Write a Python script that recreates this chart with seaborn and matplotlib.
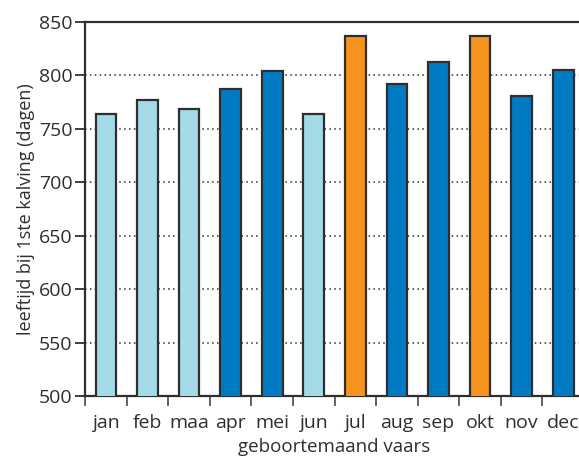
import numpy as np
import pandas as pd
import matplotlib
matplotlib.use("Agg")
import matplotlib.pyplot as plt
import seaborn as sns

# data
maanden = ["jan", "feb", "maa", "apr", "mei", "jun", "jul", "aug", "sep", "okt", "nov", "dec"]
leeftijd = [764, 777, 769, 787, 804, 764, 837, 792, 813, 837, 781, 805]
groep = ["licht", "licht", "licht", "blauw", "blauw", "licht",
         "oranje", "blauw", "blauw", "oranje", "blauw", "blauw"]
yticks = [500, 550, 600, 650, 700, 750, 800, 850]

kleuren = {"licht": "#a3dae5", "blauw": "#007bc3", "oranje": "#f5931f"}
ink = "#2e2e2e"

df = pd.DataFrame({"maand": maanden, "leeftijd": leeftijd, "groep": groep})

sns.set_theme(style="ticks")
plt.rcParams["font.family"] = ["Open Sans", "DejaVu Sans"]

fig = plt.figure(figsize=(5.79, 4.59), dpi=100)
ax = fig.add_axes([0.147, 0.137, 1.0087 - 0.147, 0.952 - 0.137])

sns.barplot(data=df, x="maand", y="leeftijd", hue="groep", palette=kleuren,
            saturation=1, dodge=False, width=0.5, legend=False,
            edgecolor=ink, linewidth=1.6, ax=ax, zorder=3)

ax.set_ylim(500, 850)
ax.set_xlim(-0.5, len(maanden) - 0.5)
ax.set_yticks(yticks)

# dotted grid lines
for v in yticks[1:-1]:
    ax.axhline(v, color=ink, linestyle=(0, (1, 2.2)), linewidth=1.1, zorder=1)

# tick marks between categories (major), labels under bars (minor)
ax.set_xticks(np.arange(len(maanden)) - 0.5)
ax.set_xticklabels([""] * len(maanden))
ax.set_xticks(np.arange(len(maanden)), minor=True)
ax.set_xticklabels(maanden, minor=True)
ax.tick_params(axis="x", which="major", bottom=True, length=7, width=1.3,
               color="#555555", direction="out")
ax.tick_params(axis="x", which="minor", bottom=True, length=0, pad=13,
               labelsize=14, labelcolor=ink)
ax.tick_params(axis="y", left=True, length=7, width=1.3, color=ink, direction="out",
               labelsize=14, labelcolor=ink, pad=2)

for side in ["left", "bottom", "top"]:
    ax.spines[side].set_visible(True)
    ax.spines[side].set_color(ink)
    ax.spines[side].set_linewidth(1.6)
ax.spines["right"].set_visible(False)

ax.set_xlabel("geboortemaand vaars", fontsize=13.5, color=ink, labelpad=4)
ax.set_ylabel("leeftijd bij 1ste kalving (dagen)", fontsize=13, color=ink, labelpad=3)

fig.savefig("out.png", dpi=100)
